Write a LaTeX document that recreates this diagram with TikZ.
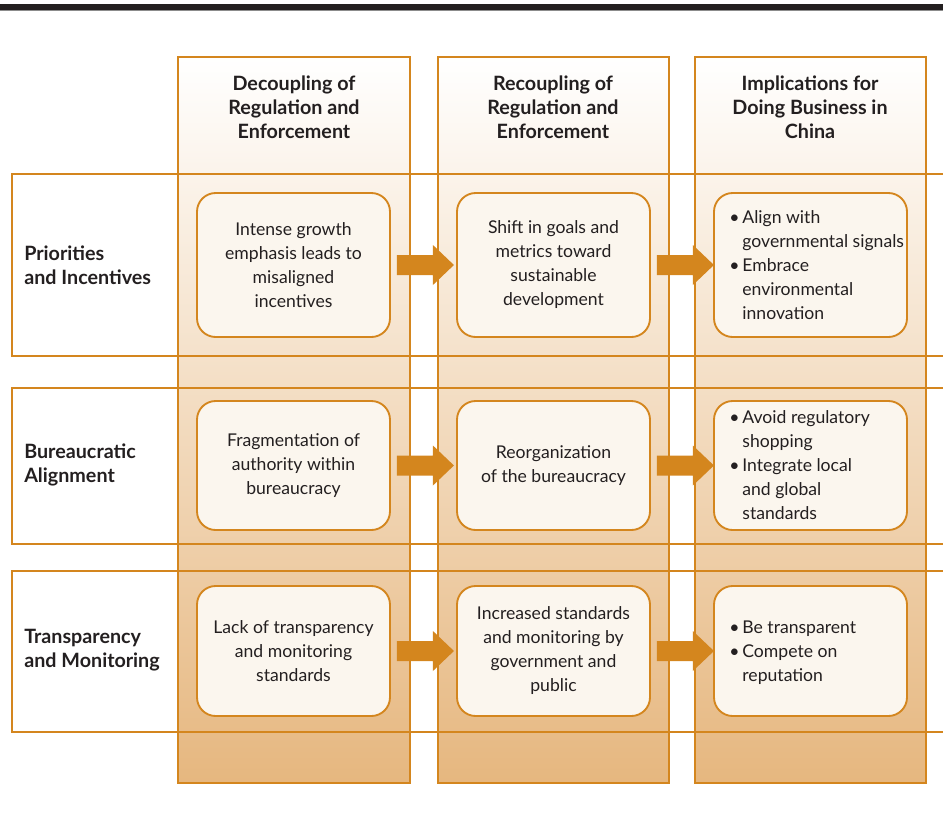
\documentclass[tikz,border=0pt]{standalone}
\usepackage{fontspec}
\setmainfont{Lato}
\usetikzlibrary{calc}
\definecolor{orng}{HTML}{D4861E}
\definecolor{colbot}{HTML}{E6B77F}
\definecolor{boxfill}{HTML}{FBF6EE}
\definecolor{ink}{HTML}{231F20}
\definecolor{barcol}{HTML}{231F20}
\newdimen\pxu \pxu=0.75pt
\begin{document}
\begin{tikzpicture}[x=0.75pt,y=-0.75pt,
  every node/.style={text=ink, font=\fontsize{13.2}{18}\selectfont},
  colband/.style={draw=orng, line width=1.5pt},
  rowband/.style={draw=orng, line width=1.1pt},
  cellbox/.style={draw=orng, fill=boxfill, line width=1.4pt, rounded corners=14pt,
     minimum width=193\pxu, inner sep=0pt, align=center},
  head/.style={font=\fontsize{14.8}{18}\selectfont\bfseries, align=center},
  rowlab/.style={font=\fontsize{14.8}{18}\selectfont\bfseries, align=left, anchor=west, inner sep=0pt},
  bigarrow/.style={fill=orng},
  bul/.style={anchor=west, inner sep=0pt, align=left}
]
\useasboundingbox (0,0) rectangle (943,829);
% top bar
\fill[barcol] (0,4) rectangle (943,10);
\fill[black!45] (0,10) rectangle (943,11.3);
% columns
\foreach \xa/\xb in {178/410, 438/669, 695/926}{
  \shade[top color=white, bottom color=colbot] (\xa,57) rectangle (\xb,783);
}
% row bands
\draw[rowband] (12,174) rectangle (960,356);
\draw[rowband] (12,388) rectangle (960,544);
\draw[rowband] (12,571) rectangle (960,732);
% column borders
\foreach \xa/\xb in {178/410, 438/669, 695/926}{
  \draw[colband] (\xa,57) rectangle (\xb,783);
}
% headers
\node[head] (h1) at (294,107) {Decoupling of\\Regulation and\\Enforcement};
\node[head] (h2) at (553,107) {Recoupling of\\Regulation and\\Enforcement};
\node[head] (h3) at (810,107) {Implications for\\Doing Business in\\China};
% row labels
\node[rowlab] (l1) at (24,265) {Priorities\\and Incentives};
\node[rowlab] (l2) at (24,465) {Bureaucratic\\Alignment};
\node[rowlab] (l3) at (24,650) {Transparency\\and Monitoring};
% boxes row 1
\node[cellbox, minimum height=144\pxu] (b11) at (293.5,265) {Intense growth\\emphasis leads to\\misaligned\\incentives};
\node[cellbox, minimum height=144\pxu] (b12) at (553.5,265) {Shift in goals and\\metrics toward\\sustainable\\development};
\node[cellbox, minimum height=144\pxu] (b13) at (810.5,265) {};
% row 2
\node[cellbox, minimum height=129\pxu] (b21) at (293.5,465.5) {Fragmentation of\\authority within\\bureaucracy};
\node[cellbox, minimum height=129\pxu] (b22) at (553.5,465.5) {Reorganization\\of the bureaucracy};
\node[cellbox, minimum height=129\pxu] (b23) at (810.5,465.5) {};
% row 3
\node[cellbox, minimum height=130\pxu] (b31) at (293.5,651) {Lack of transparency\\and monitoring\\standards};
\node[cellbox, minimum height=130\pxu] (b32) at (553.5,651) {Increased standards\\and monitoring by\\government and\\public};
\node[cellbox, minimum height=130\pxu] (b33) at (810.5,651) {};
% bullet texts
\newcommand\bt{\makebox[9.8pt][l]{•}}
\node[bul] (t13) at ($(b13.west)+(16,0)$) {\bt Align with\\\hspace*{9.8pt}governmental signals\\\bt Embrace\\\hspace*{9.8pt}environmental\\\hspace*{9.8pt}innovation};
\node[bul] (t23) at ($(b23.west)+(16,0)$) {\bt Avoid regulatory\\\hspace*{9.8pt}shopping\\\bt Integrate local\\\hspace*{9.8pt}and global\\\hspace*{9.8pt}standards};
\node[bul] (t33) at ($(b33.west)+(16,2)$) {\bt Be transparent\\\bt Compete on\\\hspace*{9.8pt}reputation};
% arrows
\foreach \s in {b11,b12,b21,b22,b31,b32}{
  \fill[bigarrow] ($(\s.east)+(6,-10)$) -- ++(36,0) -- ++(0,-10) -- ++(21,20) -- ++(-21,20) -- ++(0,-10) -- ++(-36,0) -- cycle;
}
\end{tikzpicture}
\end{document}
